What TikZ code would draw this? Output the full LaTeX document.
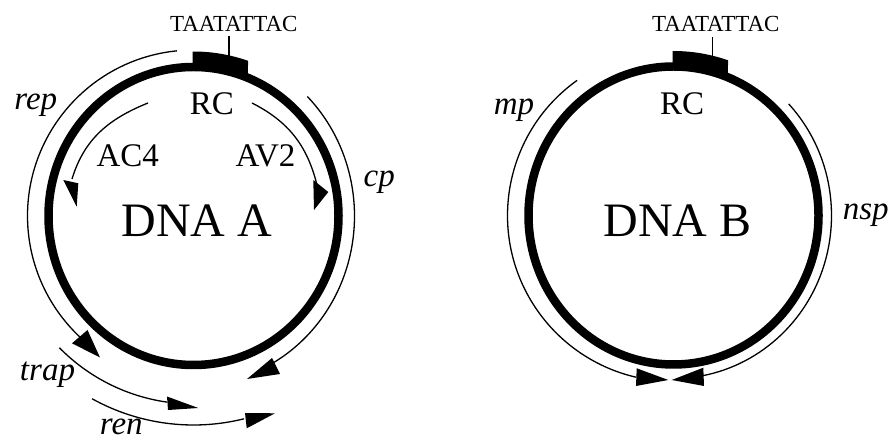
\documentclass[tikz,border=0pt]{standalone}
\usepackage{fontspec}
\setmainfont{Liberation Serif}
\begin{document}
\begin{tikzpicture}[x=1pt,y=1pt,
  ring/.style={line width=8.5pt},
  thin/.style={line width=1.3pt},
  seq/.style={inner sep=0pt,outer sep=0pt,anchor=base,font=\fontsize{23}{26}\selectfont},
  lbl/.style={inner sep=0pt,outer sep=0pt,anchor=base,font=\fontsize{33}{38}\selectfont},
  gene/.style={inner sep=0pt,outer sep=0pt,anchor=base,font=\fontsize{33}{38}\selectfont\itshape},
  big/.style={inner sep=0pt,outer sep=0pt,anchor=base,font=\fontsize{48}{54}\selectfont}]
\useasboundingbox (0,0) rectangle (893,441);
\coordinate (cA) at (193.5,225);
\coordinate (cB) at (673.5,225.5);

% ---------------- DNA A ----------------
\draw[ring] (cA) ellipse [x radius=145, y radius=149];
\fill ([shift={(cA)}]90.3:164.5) arc[start angle=90.3,end angle=70.6,radius=164.5]
  -- ([shift={(cA)}]67.8:143 and 147) arc[start angle=67.8,end angle=90.3,x radius=143,y radius=147] -- cycle;
\draw[thin] (229,405) -- (229,384);
\node[seq] (seqA) at (233.8,409.3) {TAATATTAC};
\node[lbl] (rcA) at (211.8,326) {RC};
\node[lbl] (ac4) at (127.7,274.3) {AC4};
\node[lbl] (av2) at (265.5,274.3) {AV2};
\node[big] (dnaA) at (196.7,204.3) {DNA A};

% inner arrows
\draw[thin] (148,338) to[out=202,in=73] (72,262);
\fill (63.3,261) -- (78.3,257.7) -- (76.7,234.3) -- cycle;
\draw[thin] (252,338) to[out=-27,in=104] (317,256);
\fill (313.3,261) -- (328.3,249) -- (314,231) -- cycle;

% rep
\draw[thin] ([shift={(cA)}]95.7:166) arc[start angle=95.7,end angle=226.8,radius=166];
\fill (72,97.7) -- (87.5,111) -- (100,83.5) -- cycle;
\node[gene] (rep) at (35.8,331) {rep};
% cp
\draw[thin] ([shift={(cA)}]45:161 and 169) arc[start angle=45,end angle=-60,x radius=161,y radius=169];
\fill (272,83) -- (280,67) -- (247,62) -- cycle;
\node[gene] (cp) at (379.2,254) {cp};
% trap
\draw[thin] ([shift={(cA)}]224.5:188) arc[start angle=224.5,end angle=261.9,radius=188];
\fill (167,44.5) -- (168,31) -- (198.3,33) -- cycle;
\node[gene] (trap) at (47.5,60) {trap};
% ren
\draw[thin] ([shift={(cA)}]241:209) arc[start angle=241,end angle=284,radius=209];
\fill (245,28) -- (246.7,12.7) -- (275,27.7) -- cycle;
\node[gene] (ren) at (121.3,6) {ren};

% ---------------- DNA B ----------------
\draw[ring] (cB) ellipse [x radius=145, y radius=149];
\fill ([shift={(cB)}]90.3:164.5) arc[start angle=90.3,end angle=70.6,radius=164.5]
  -- ([shift={(cB)}]67.8:143 and 147) arc[start angle=67.8,end angle=90.3,x radius=143,y radius=147] -- cycle;
\draw[thin] (712.3,403.7) -- (712.3,384);
\node[seq] (seqB) at (715.8,409.3) {TAATATTAC};
\node[lbl] (rcB) at (682,326) {RC};
\node[big] (dnaB) at (677.5,204.3) {DNA B};

% mp
\draw[thin] ([shift={(cB)}]125.5:166) arc[start angle=125.5,end angle=257,radius=166];
\fill (636.7,72.7) -- (636,55) -- (668.3,61) -- cycle;
\node[gene] (mp) at (514,326) {mp};
% nsp
\draw[thin] ([shift={(cB)}]43.2:158 and 163) arc[start angle=43.2,end angle=-79.5,x radius=158,y radius=163];
\fill (703.3,73.3) -- (704,55) -- (671.7,61) -- cycle;
\node[gene] (nsp) at (865.8,221) {nsp};
\end{tikzpicture}
\end{document}
